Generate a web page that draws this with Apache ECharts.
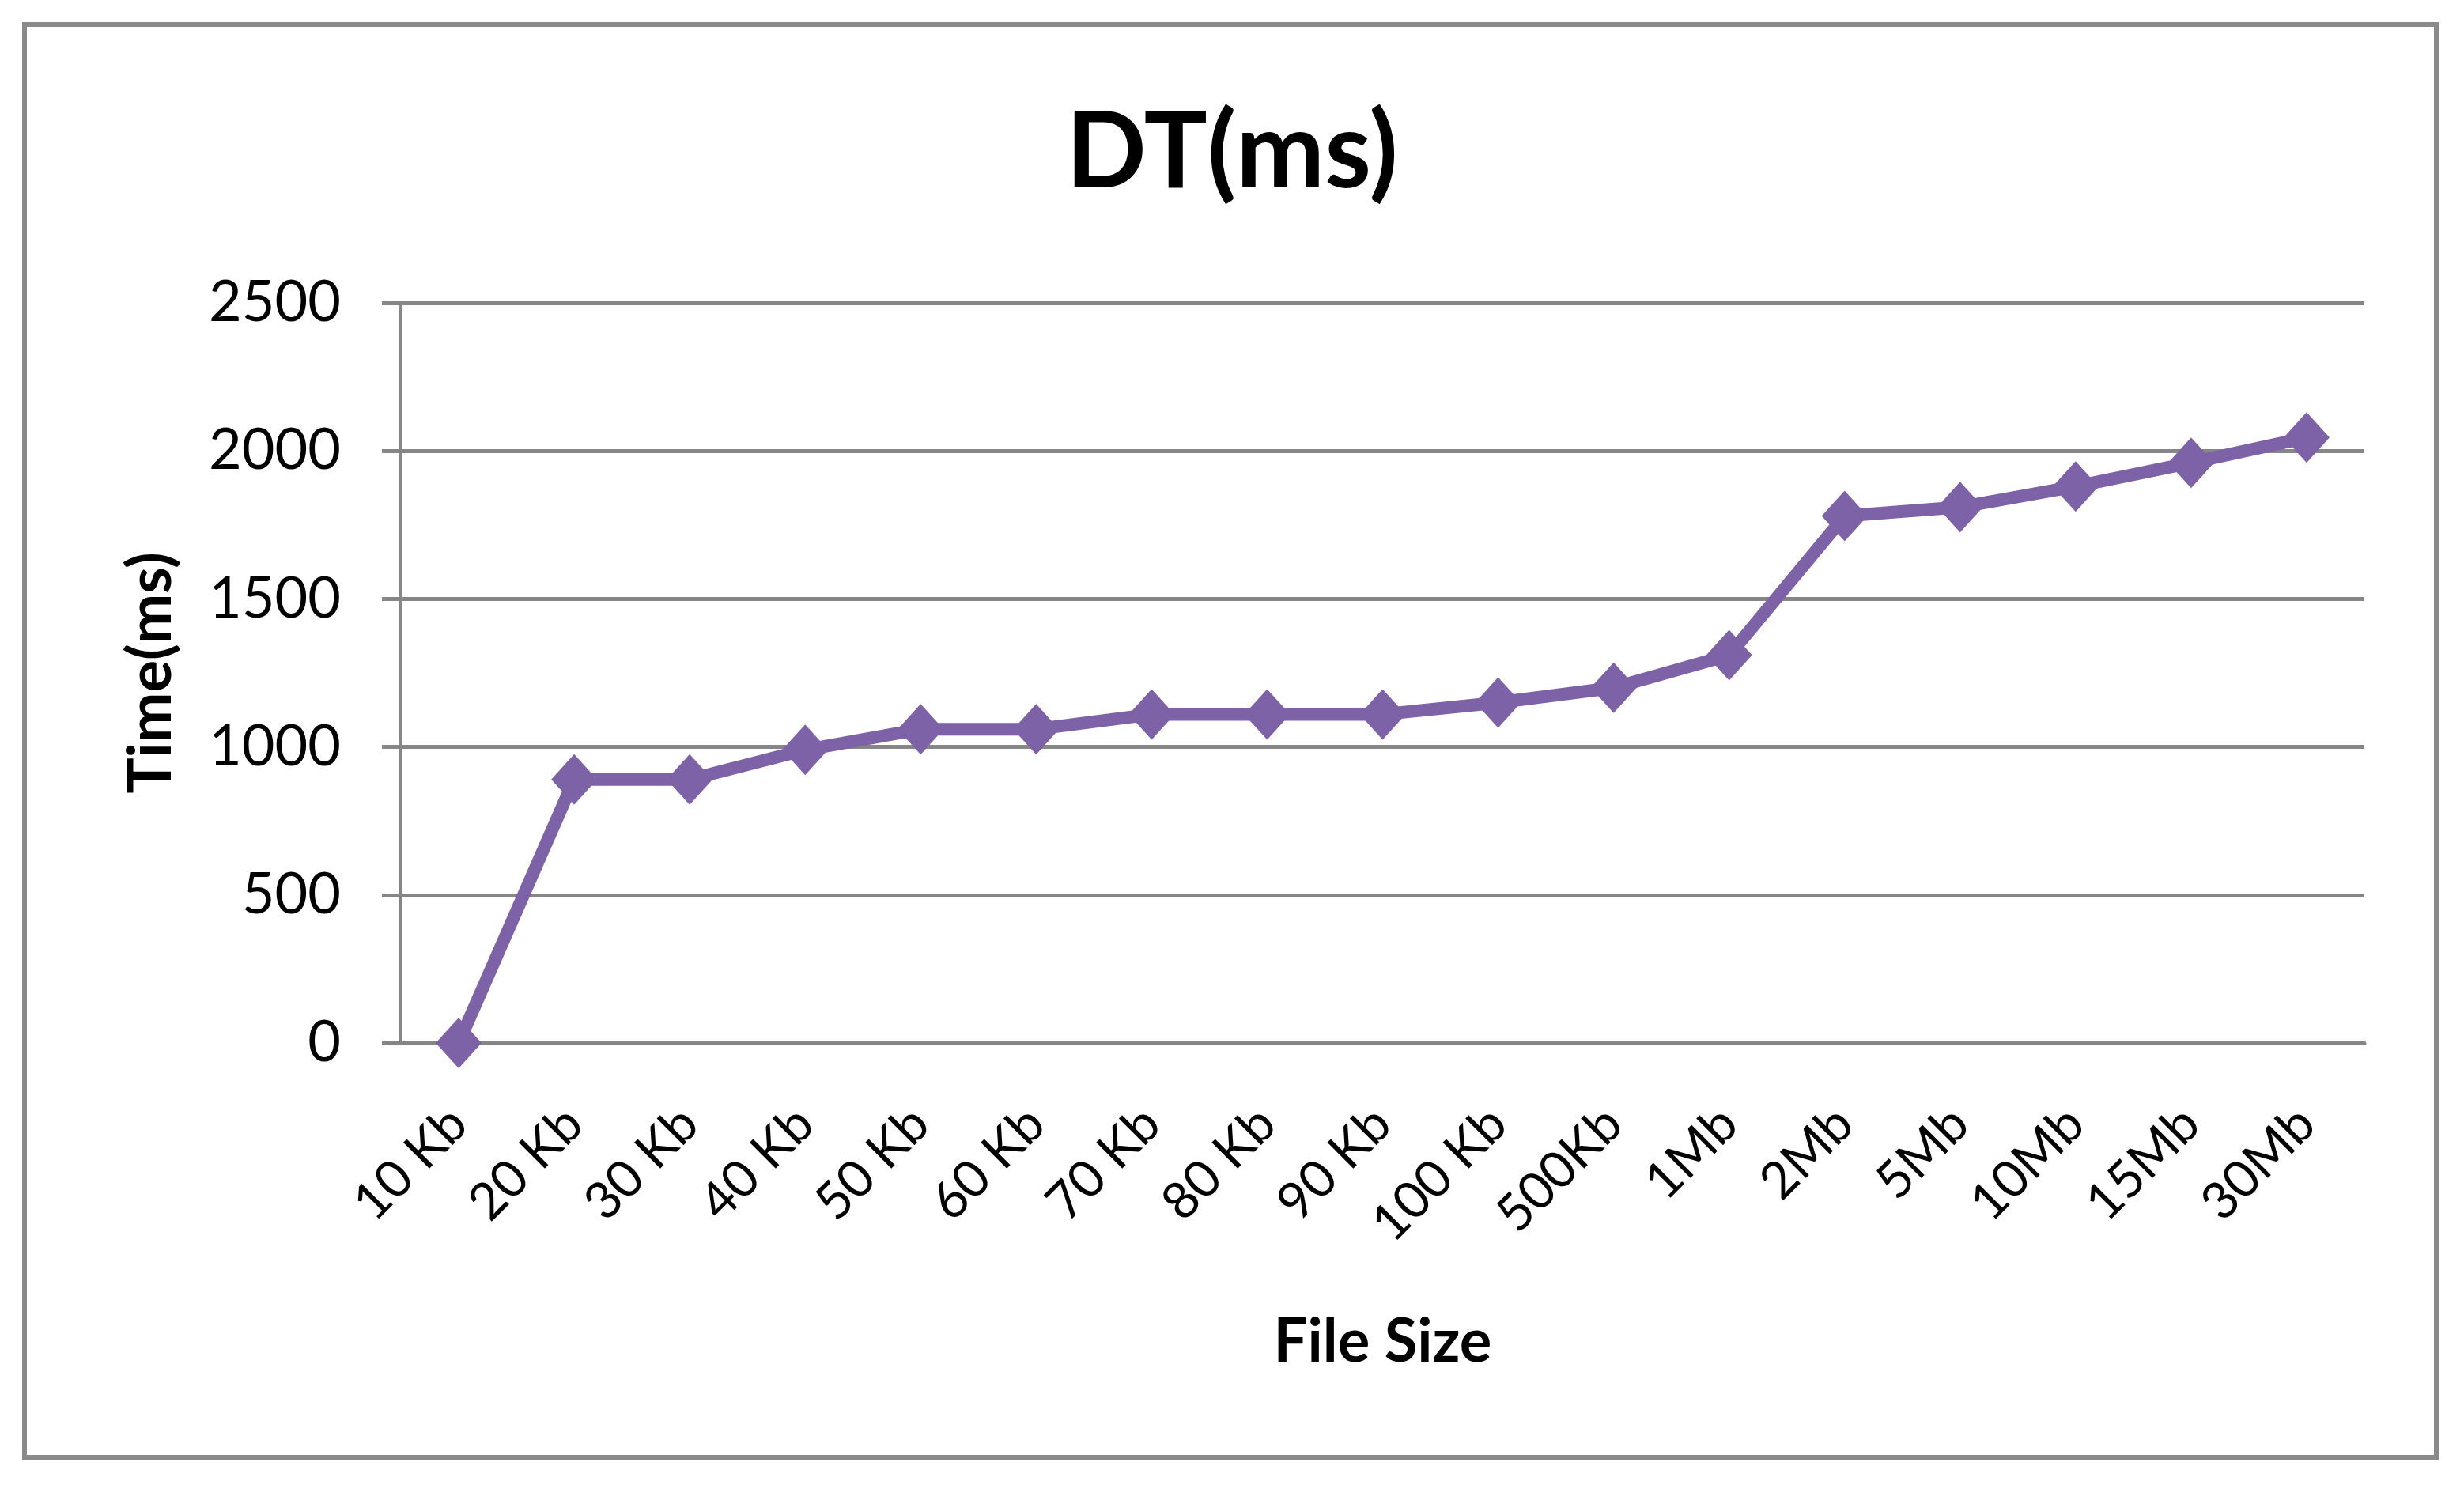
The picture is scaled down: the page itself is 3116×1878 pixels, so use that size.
<!DOCTYPE html>
<html>
<head>
<meta charset="utf-8">
<script src="https://cdn.jsdelivr.net/npm/echarts@6/dist/echarts.min.js"></script>
<style>html,body{margin:0;padding:0;background:#fff;}#c{width:3116px;height:1878px;}</style>
</head>
<body>
<div id="c"></div>
<script>
const categories = ['10 Kb','20 Kb','30 Kb','40 Kb','50 Kb','60 Kb','70 Kb','80 Kb','90 Kb','100 Kb','500Kb','1Mb','2Mb','5Mb','10Mb','15Mb','30Mb'];
const dtValues = [0, 890, 890, 990, 1060, 1060, 1110, 1110, 1110, 1150, 1200, 1310, 1780, 1810, 1880, 1960, 2045];
const yTicks = [0, 500, 1000, 1500, 2000, 2500];

const chart = echarts.init(document.getElementById('c'));
const gray = '#868686';
chart.setOption({
  animation: false,
  backgroundColor: '#ffffff',
  graphic: [{
    type: 'rect',
    shape: { x: 31, y: 31, width: 3050, height: 1812 },
    style: { fill: 'none', stroke: '#8a8a8a', lineWidth: 6 }
  }],
  title: {
    text: 'DT(ms)',
    left: 'center',
    top: 122,
    textStyle: { fontFamily: 'Lato', fontWeight: 'bold', fontSize: 134, color: '#000' }
  },
  grid: { left: 507, right: 126, top: 383, bottom: 559, containLabel: false },
  xAxis: {
    type: 'category',
    data: categories,
    boundaryGap: true,
    name: 'File Size',
    nameLocation: 'middle',
    nameGap: 340,
    nameTextStyle: { fontFamily: 'Lato', fontWeight: 'bold', fontSize: 76, color: '#000' },
    axisLine: { show: true, lineStyle: { color: gray, width: 5 } },
    axisTick: { show: false },
    axisLabel: { rotate: 45, margin: 92, fontFamily: 'Lato', fontSize: 65, color: '#000', interval: 0 }
  },
  yAxis: {
    type: 'value',
    min: 0, max: 2500, interval: 500,
    name: 'Time(ms)',
    nameLocation: 'middle',
    nameGap: 278,
    nameRotate: 90,
    nameTextStyle: { fontFamily: 'Lato', fontWeight: 'bold', fontSize: 76, color: '#000' },
    axisLine: { show: true, lineStyle: { color: gray, width: 4 } },
    axisTick: { show: true, length: 24, lineStyle: { color: gray, width: 5 } },
    axisLabel: {
      margin: 76, fontFamily: 'Lato', fontSize: 72, color: '#000',
      formatter: function (v) { return yTicks.indexOf(v) >= 0 ? String(v) : ''; }
    },
    splitLine: { show: true, lineStyle: { color: gray, width: 5 } }
  },
  series: [{
    type: 'line',
    data: dtValues,
    symbol: 'diamond',
    symbolSize: [58, 64],
    lineStyle: { color: '#7E62A8', width: 16 },
    itemStyle: { color: '#7E62A8' },
    z: 5
  }]
});
</script>
</body>
</html>
